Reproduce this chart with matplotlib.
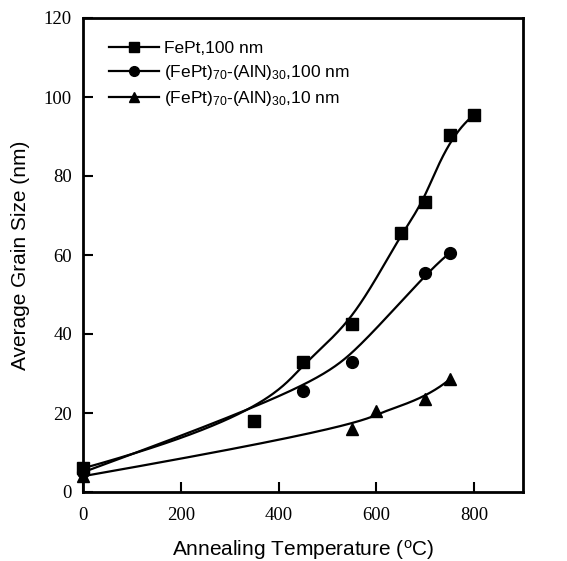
import numpy as np
import matplotlib
matplotlib.use("Agg")
import matplotlib.pyplot as plt

plt.rcParams['mathtext.fontset'] = 'custom'
plt.rcParams['mathtext.rm'] = 'Liberation Sans'
plt.rcParams['mathtext.it'] = 'Liberation Sans'

# Data
t_fept = [0, 350, 450, 550, 650, 700, 750, 800]
g_fept = [6, 18, 33, 42.5, 65.5, 73.5, 90.5, 95.5]
t_aln100 = [0, 450, 550, 700, 750]
g_aln100 = [5, 25.5, 33, 55.5, 60.5]
t_aln10 = [0, 550, 600, 700, 750]
g_aln10 = [4, 16, 20.5, 23.5, 28.5]

labels = ['FePt,100 nm',
          '(FePt)$_{70}$-(AlN)$_{30}$,100 nm',
          '(FePt)$_{70}$-(AlN)$_{30}$,10 nm']
xticks = [0, 200, 400, 600, 800]
yticks = [0, 20, 40, 60, 80, 100, 120]


def bspline(t, g, k=3, num=400):
    """Clamped cubic B-spline using the measured points as control points."""
    P = np.column_stack([np.asarray(t, float), np.asarray(g, float)])
    n = len(P)
    knots = np.concatenate([np.zeros(k), np.linspace(0, 1, n - k + 1), np.ones(k)])
    u = np.linspace(0, 1, num)
    u[-1] -= 1e-9
    N = np.array([((knots[i] <= u) & (u < knots[i + 1])).astype(float)
                  for i in range(len(knots) - 1)])
    for d in range(1, k + 1):
        Nn = np.zeros((len(knots) - 1 - d, num))
        for i in range(len(knots) - 1 - d):
            a = knots[i + d] - knots[i]
            b = knots[i + d + 1] - knots[i + 1]
            term = np.zeros(num)
            if a > 0:
                term += (u - knots[i]) / a * N[i]
            if b > 0:
                term += (knots[i + d + 1] - u) / b * N[i + 1]
            Nn[i] = term
        N = Nn
    C = N.T @ P
    return C[:, 0], C[:, 1]


fig = plt.figure(figsize=(5.67, 5.61), dpi=100)
ax = fig.add_axes([83/567, 1-492/561, 440/567, 474/561])

series = [(t_fept, g_fept, 's', 8.5),
          (t_aln100, g_aln100, 'o', 8.5),
          (t_aln10, g_aln10, '^', 9)]
for (t, g, m, ms), lab in zip(series, labels):
    xs, ys = bspline(t, g)
    ax.plot(xs, ys, color='black', lw=1.6, clip_on=False)
    ax.plot(t, g, linestyle='none', marker=m, color='black', ms=ms, clip_on=False)
    ax.plot([], [], color='black', lw=1.6, marker=m, ms=7, label=lab)

ax.set_xlim(0, 900)
ax.set_ylim(0, 120)
ax.set_xticks(xticks)
ax.set_yticks(yticks)
ax.tick_params(direction='in', length=7, width=1.5, top=False, right=False)
ax.tick_params(axis='x', pad=11)
ax.tick_params(axis='y', pad=8)
for lab in ax.get_xticklabels() + ax.get_yticklabels():
    lab.set_fontfamily('Liberation Serif')
    lab.set_fontsize(13.5)
for s in ax.spines.values():
    s.set_linewidth(2)

ax.set_xlabel('Annealing Temperature ($^{\\rm o}$C)', fontsize=15, family='Liberation Sans', labelpad=10)
ax.set_ylabel('Average Grain Size (nm)', fontsize=15, family='Liberation Sans', labelpad=10)

leg = ax.legend(loc='upper left', bbox_to_anchor=(0.023, 0.985), frameon=False,
                prop={'family': 'Liberation Sans', 'size': 12.5},
                handlelength=2.9, handletextpad=0.3, labelspacing=0.4)

fig.savefig('out.png', dpi=100)
